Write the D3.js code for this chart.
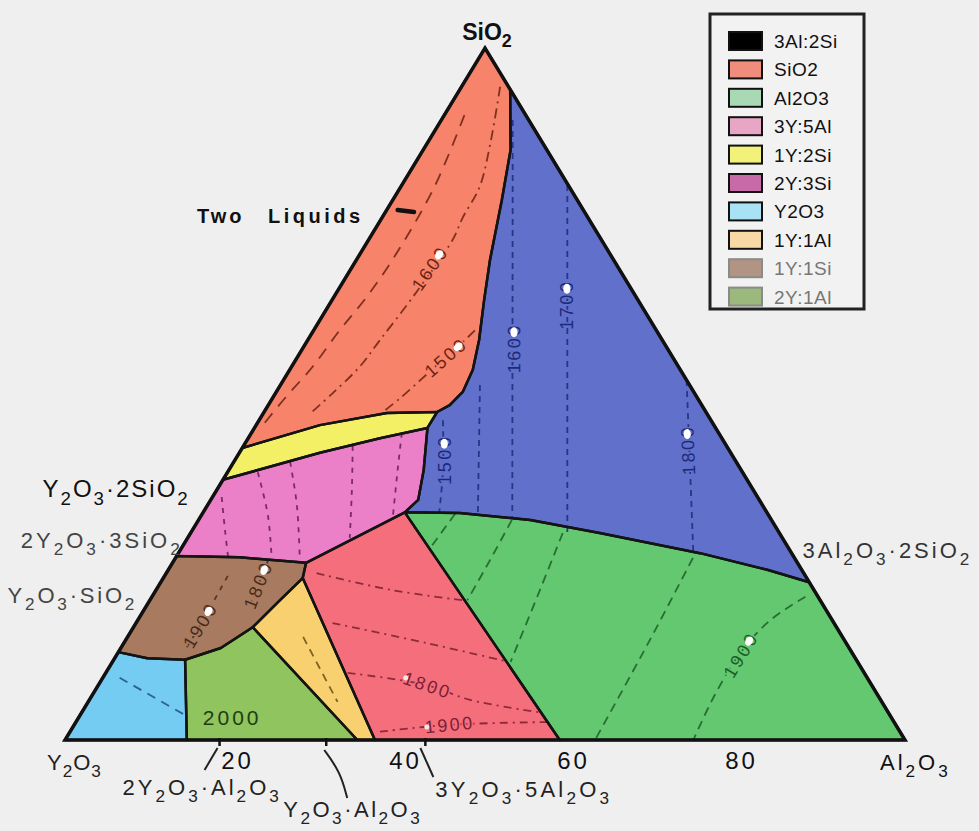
<!DOCTYPE html>
<html>
<head>
<meta charset="utf-8">
<script src="https://cdn.jsdelivr.net/npm/d3@7"></script>
<style>
  body { margin: 0; background: #efefef; }
  svg { display: block; }
  text { font-family: "Liberation Sans", Arial, sans-serif; }
</style>
</head>
<body>
<svg id="chart" width="979" height="831"></svg>
<script>
// Y2O3–Al2O3–SiO2 liquidus projection. Compositions in weight percent,
// written as [Al2O3, SiO2]; Y2O3 is the remainder.

const fieldNames = ["3Al:2Si", "SiO2", "Al2O3", "3Y:5Al", "1Y:2Si", "2Y:3Si", "Y2O3", "1Y:1Al", "1Y:1Si", "2Y:1Al"];

// primary crystallisation fields
const fieldMullite = [[6, 94], [77.2, 22.8], [71.3, 24.6], [62.1, 27.0], [48.7, 29.9], [39.5, 31.8], [30.6, 32.8], [24.0, 32.9], [24.7, 34.7], [23.2, 39.0], [20.6, 45.1], [20.6, 47.4], [21.6, 48.4], [22.2, 50.3], [21.8, 53.5], [20.4, 57.8], [18.1, 63.6], [15.9, 69.4], [13.0, 78.0], [10.4, 85.3]];
const fieldSiO2 = [[0, 100], [6, 94], [10.4, 85.3], [13.0, 78.0], [15.9, 69.4], [18.1, 63.6], [20.4, 57.8], [21.8, 53.5], [22.2, 50.3], [21.6, 48.4], [20.6, 47.4], [14.7, 47.25], [7.6, 45.5], [0, 42.2]];
const fieldAl2O3 = [[24.0, 32.9], [30.6, 32.8], [39.5, 31.8], [48.7, 29.9], [62.1, 27.0], [71.3, 24.6], [77.2, 22.8], [100, 0], [58.9, 0]];
const fieldY3A5 = [[15.9, 25.6], [24.0, 32.9], [58.9, 0], [36.9, 0], [16.6, 23.4]];
const fieldYS2 = [[0, 42.2], [7.6, 45.5], [14.7, 47.25], [20.6, 47.4], [20.6, 45.1], [15.7, 43.6], [9.6, 41.5], [0, 37.6]];
const fieldY2S3 = [[0, 37.6], [9.6, 41.5], [15.7, 43.6], [20.6, 45.1], [23.2, 39.0], [24.7, 34.7], [24.0, 32.9], [15.9, 25.6], [7.6, 26.4], [0, 26.6]];
const fieldY2O3 = [[0, 12.7], [3.9, 11.8], [8.5, 11.6], [14.5, 0], [0, 0]];
const fieldYA = [[14.2, 16.3], [15.5, 20.2], [16.6, 23.4], [36.9, 0], [34.8, 0]];
const fieldYS = [[0, 26.6], [7.6, 26.4], [15.9, 25.6], [16.6, 23.4], [15.5, 20.2], [14.2, 16.3], [11.9, 13.3], [8.5, 11.6], [3.9, 11.8], [0, 12.7]];
const fieldY2A = [[8.5, 11.6], [11.9, 13.3], [14.2, 16.3], [34.8, 0], [14.5, 0]];

// liquidus isotherms inside each field
const isoMullite = [
  [[21.9, 46.2], [25.5, 39.0], [28.1, 32.9]],
  [[23.75, 51.3], [32.8, 32.7]],
  [[8.5, 89.6], [37.2, 32.1]],
  [[19.7, 80.2], [44.9, 29.8]],
  [[48.0, 52.0], [61.3, 27.0]]
];
const isoSiO2 = [
  [[2.4, 90.3], [4.0, 80.0], [4.3, 70.0], [3.9, 64.0], [3.1, 59.2], [2.5, 53.9], [1.5, 49.5], [0.8, 45.5]],
  [[4.6, 94.4], [7.5, 86.3], [9.4, 79.9], [9.6, 75.5], [10.0, 72.3], [9.4, 64.0], [8.6, 57.8], [8.1, 53.9], [6.8, 50.1], [5.7, 47.4]],
  [[19.2, 59.2], [18.2, 56.4], [17.2, 54.2], [16.3, 52.0], [15.2, 49.4], [14.3, 47.7]]
];
const isoAl2O3 = [
  [[30.1, 32.7], [29.6, 27.7]],
  [[37.3, 31.8], [37.6, 26.0], [37.8, 20.2]],
  [[44.3, 29.9], [45.7, 21.7], [47.4, 11.3]],
  [[61.6, 26.3], [62.4, 14.5], [63.1, 0]],
  [[77.8, 20.7], [75.3, 17.3], [74.1, 12.6], [74.1, 6.5], [74.8, 0]]
];
const isoY3A5 = [
  [[17.9, 24.1], [27.9, 21.7], [37.2, 20.2]],
  [[23.4, 16.9], [36.1, 14.0], [47.1, 11.3]],
  [[28.8, 9.7], [39.2, 7.9], [45.3, 5.8], [54.5, 4.0]],
  [[36.9, 1.2], [44.7, 2.2], [56.4, 2.6]]
];
const isoY2S3 = [
  [[1.1, 35.1], [3.9, 30.3], [6.1, 26.6]],
  [[3.6, 38.7], [7.9, 32.5], [11.4, 26.4]],
  [[6.7, 40.2], [10.6, 34.0], [14.8, 26.3]],
  [[13.0, 42.5], [16.1, 36.1], [19.3, 29.2]],
  [[17.9, 44.4], [20.1, 39.0], [22.8, 32.5]]
];
const isoYS = [
  [[7.8, 13.4], [7.8, 16.6], [7.5, 24.1]],
  [[12.3, 19.5], [11.8, 22.4], [11.2, 26.0]]
];
const isoY2O3 = [[[2.0, 9.0], [12.5, 3.6]]];
const isoYA = [[[20.9, 14.9], [29.7, 5.5]]];

// isotherm temperatures (°C)
const isoLabels = [
  { text: "1600", field: "SiO2", line: 1, at: [9.35, 68.2] },
  { text: "1500", field: "SiO2", line: 2, at: [17.7, 55.3] },
  { text: "1500", field: "3Al:2Si", line: 0, at: [24.9, 40.5] },
  { text: "1600", field: "3Al:2Si", line: 2, at: [25.15, 56.6] },
  { text: "1700", field: "3Al:2Si", line: 3, at: [28.3, 62.9] },
  { text: "1800", field: "3Al:2Si", line: 4, at: [53.2, 41.9] },
  { text: "1900", field: "Al2O3", line: 4, at: [74.3, 12.3] },
  { text: "1800", field: "3Y:5Al", line: 2, at: [39.2, 7.9] },
  { text: "1900", field: "3Y:5Al", line: 3, at: [44.7, 2.2] },
  { text: "1900", field: "1Y:1Si", line: 0, at: [7.8, 16.6] },
  { text: "1800", field: "1Y:1Si", line: 1, at: [11.8, 22.4] },
  { text: "2000", field: "2Y:1Al", line: -1, at: [18.3, 3.2] }
];

// compounds on the binary joins (wt %)
const cornerNames = ["Y2O3", "Al2O3", "SiO2"];
const tickValues = [20, 40, 60, 80];
const baseCompounds = [
  { name: "2Y2O3·Al2O3", al: 18.4 },
  { name: "Y2O3·Al2O3", al: 31.1 },
  { name: "3Y2O3·5Al2O3", al: 42.9 }
];
const leftCompounds = [
  { name: "Y2O3·2SiO2", si: 34.7 },
  { name: "2Y2O3·3SiO2", si: 28.5 },
  { name: "Y2O3·SiO2", si: 21.0 }
];
const rightCompounds = [{ name: "3Al2O3·2SiO2", si: 28.2 }];
const twoLiquidsMark = [[1.3, 76.6], [3.4, 76.3]];

// ------------------------------------------------------------------
const polygons = {
  "3Al:2Si": fieldMullite, "SiO2": fieldSiO2, "Al2O3": fieldAl2O3, "3Y:5Al": fieldY3A5,
  "1Y:2Si": fieldYS2, "2Y:3Si": fieldY2S3, "Y2O3": fieldY2O3, "1Y:1Al": fieldYA,
  "1Y:1Si": fieldYS, "2Y:1Al": fieldY2A
};
const isotherms = {
  "3Al:2Si": isoMullite, "SiO2": isoSiO2, "Al2O3": isoAl2O3, "3Y:5Al": isoY3A5,
  "2Y:3Si": isoY2S3, "1Y:1Si": isoYS, "Y2O3": isoY2O3, "1Y:1Al": isoYA
};
const style = {
  "3Al:2Si": { fill: "#6171cb", ink: "#1d2a7a", key: "#000000", dash: ["6,5"] },
  "SiO2":    { fill: "#f7836a", ink: "#6a2212", key: "#f08c7c", dash: ["12,9", "10,5,2,5"] },
  "Al2O3":   { fill: "#63c86f", ink: "#1c5e28", key: "#a8d8b4", dash: ["9,6"] },
  "3Y:5Al":  { fill: "#f46e7c", ink: "#7c1f33", key: "#e8a6c6", dash: ["8,5,2,5"] },
  "1Y:2Si":  { fill: "#f3f066", ink: "#5e5a10", key: "#f2f27a", dash: ["6,5"] },
  "2Y:3Si":  { fill: "#ec80c8", ink: "#6a1a58", key: "#c86aa8", dash: ["5,6"] },
  "Y2O3":    { fill: "#74ccf2", ink: "#1e4e84", key: "#a8e2f4", dash: ["9,7"] },
  "1Y:1Al":  { fill: "#f8d070", ink: "#6a5016", key: "#f8d9a6", dash: ["8,6"] },
  "1Y:1Si":  { fill: "#a87b60", ink: "#4a2a1c", key: "#b29484", dash: ["5,6"] },
  "2Y:1Al":  { fill: "#8fc45e", ink: "#1f3d12", key: "#9ab97a", dash: ["6,6"] }
};

const svg = d3.select("#chart");
const x = d3.scaleLinear().domain([0, 100]).range([65, 905]);
const y = d3.scaleLinear().domain([0, 100]).range([740, 48]);
const project = ([al, si]) => [x(al + si / 2), y(si)];

const closed = d3.line().x(d => project(d)[0]).y(d => project(d)[1]).curve(d3.curveLinearClosed);
const open = d3.line().x(d => project(d)[0]).y(d => project(d)[1]).curve(d3.curveCatmullRom.alpha(0.5));
const straight = d3.line().x(d => project(d)[0]).y(d => project(d)[1]);

// chemical formula with subscripted stoichiometry
function formula(sel, str, size) {
  const parts = [];
  let prev = "";
  for (const ch of str) {
    const sub = /[0-9]/.test(ch) && /[A-Za-z]/.test(prev);
    if (parts.length && parts[parts.length - 1].sub === sub) parts[parts.length - 1].t += ch;
    else parts.push({ t: ch, sub });
    prev = ch;
  }
  let shift = 0;
  parts.forEach(p => {
    const target = p.sub ? size * 0.32 : 0;
    sel.append("tspan").attr("dy", target - shift)
      .style("font-size", (p.sub ? size * 0.78 : size) + "px").text(p.t);
    shift = target;
  });
  return sel;
}

// fields
const gFields = svg.append("g");
fieldNames.forEach(n => {
  gFields.append("path").attr("d", closed(polygons[n])).attr("fill", style[n].fill);
});

// isotherms
const gIso = svg.append("g").attr("fill", "none");
Object.keys(isotherms).forEach(n => {
  const dashes = style[n].dash;
  isotherms[n].forEach((line, i) => {
    gIso.append("path").attr("d", open(line))
      .attr("stroke", style[n].ink).attr("stroke-width", 1.8)
      .attr("stroke-dasharray", dashes[Math.min(i, dashes.length - 1)]).attr("opacity", 0.85);
  });
});

// isotherm labels, turned along their line
const gLab = svg.append("g");
isoLabels.forEach(l => {
  const [px, py] = project(l.at);
  let angle = 0;
  if (l.line >= 0) {
    const pts = isotherms[l.field][l.line].map(project);
    let best = 0, bd = Infinity;
    for (let i = 0; i < pts.length - 1; i++) {
      const mx = (pts[i][0] + pts[i + 1][0]) / 2, my = (pts[i][1] + pts[i + 1][1]) / 2;
      const d = (mx - px) ** 2 + (my - py) ** 2;
      if (d < bd) { bd = d; best = i; }
    }
    const a = pts[best], b = pts[best + 1];
    angle = Math.atan2(b[1] - a[1], b[0] - a[0]) * 180 / Math.PI;
    if (angle > 80) angle -= 180;
    if (angle < -100) angle += 180;
  }
  const big = l.field === "2Y:1Al";
  const g = gLab.append("g").attr("transform", `translate(${px},${py}) rotate(${angle})`);
  const t = g.append("text").attr("text-anchor", "middle").attr("dy", "0.35em")
    .attr("fill", style[l.field].ink).attr("stroke", style[l.field].fill).attr("stroke-width", 3)
    .attr("paint-order", "stroke")
    .style("font-size", big ? "21px" : "18px").style("letter-spacing", big ? "3px" : "2.5px")
    .text(l.text);
  const w = t.node().getComputedTextLength();
  if (!big && l.field !== "3Y:5Al") {
    g.append("ellipse").attr("cx", w / 2 - 9).attr("cy", 0).attr("rx", 5).attr("ry", 3.6).attr("fill", "#ffffff");
  } else if (l.field === "3Y:5Al") {
    g.append("ellipse").attr("cx", -w / 2 + 2).attr("cy", 0).attr("rx", 2.5).attr("ry", 2.5).attr("fill", "#f4e6e6");
  }
});

// field boundaries
const gBound = svg.append("g").attr("fill", "none").attr("stroke", "#141414")
  .attr("stroke-width", 2.5).attr("stroke-linejoin", "round");
fieldNames.forEach(n => gBound.append("path").attr("d", closed(polygons[n])));

// two-liquid mark
svg.append("path").attr("d", straight(twoLiquidsMark)).attr("stroke", "#111")
  .attr("stroke-width", 4.5).attr("stroke-linecap", "round");

// triangle frame
const corners = [[0, 0], [100, 0], [0, 100]];
svg.append("path").attr("d", closed(corners)).attr("fill", "none")
  .attr("stroke", "#111").attr("stroke-width", 3.5).attr("stroke-linejoin", "miter");

// composition axis along the Y2O3–Al2O3 join
const axis = d3.axisBottom(x).tickValues(tickValues).tickSize(0).tickPadding(12);
const gAxis = svg.append("g").attr("transform", `translate(4,${y(0)})`).call(axis);
gAxis.select(".domain").remove();
gAxis.selectAll("text").attr("fill", "#111").style("font-size", "24px")
  .style("font-family", "'Liberation Sans', Arial, sans-serif").style("letter-spacing", "3px");

// compounds on the base
const baseLayout = [
  { dx: -97, yb: 795, ls: 3, lead: [[-2, 8], [-15, 30]] },
  { dx: -43, yb: 817, ls: 2.5, lead: [[-2, 10], [14, 32], [21, 58]] },
  { dx: 10, yb: 797, ls: 3.2, lead: [[-5, 8], [8, 37]] }
];
baseCompounds.forEach((c, i) => {
  const px = x(c.al), L = baseLayout[i];
  svg.append("line").attr("x1", px).attr("x2", px).attr("y1", y(0) - 2).attr("y2", y(0) + 6)
    .attr("stroke", "#111").attr("stroke-width", 2.5);
  svg.append("path").attr("d", d3.line().curve(d3.curveBasis)(L.lead.map(p => [px + p[0], y(0) + p[1]])))
    .attr("fill", "none").attr("stroke", "#222").attr("stroke-width", 2);
  formula(svg.append("text").attr("x", px + L.dx).attr("y", L.yb).attr("fill", "#222")
    .style("letter-spacing", L.ls + "px"), c.name, 22);
});

// compounds on the Y2O3–SiO2 join
const leftLayout = [
  { dx: -21, dy: -3, size: 24, ls: 2, color: "#111" },
  { dx: -2, dy: 5, size: 22, ls: 3, color: "#444" },
  { dx: -16, dy: 8, size: 22, ls: 2.8, color: "#444" }
];
leftCompounds.forEach((c, i) => {
  const [px, py] = project([0, c.si]), L = leftLayout[i];
  formula(svg.append("text").attr("x", px + L.dx).attr("y", py + L.dy).attr("text-anchor", "end")
    .attr("fill", L.color).style("letter-spacing", L.ls + "px"), c.name, L.size);
});
rightCompounds.forEach(c => {
  const [px, py] = project([100 - c.si, c.si]);
  formula(svg.append("text").attr("x", px + 16).attr("y", py + 13).attr("fill", "#333")
    .style("letter-spacing", "3px"), c.name, 22);
});

// corner labels
const [ax, ay] = project([0, 100]);
formula(svg.append("text").attr("x", ax + 2).attr("y", ay - 8).attr("text-anchor", "middle")
  .attr("fill", "#111").style("font-weight", "bold"), cornerNames[2], 23);
formula(svg.append("text").attr("x", x(0) - 18).attr("y", y(0) + 30).attr("fill", "#222")
  .style("letter-spacing", "1px"), cornerNames[0], 22);
formula(svg.append("text").attr("x", x(100) - 25).attr("y", y(0) + 30).attr("fill", "#111")
  .style("letter-spacing", "3px"), cornerNames[1], 22);

// two-liquid region note
svg.append("text").attr("x", 197).attr("y", 223).attr("fill", "#111")
  .style("font-size", "20px").style("font-weight", "bold").style("letter-spacing", "3px").text("Two");
svg.append("text").attr("x", 268).attr("y", 223).attr("fill", "#111")
  .style("font-size", "20px").style("font-weight", "bold").style("letter-spacing", "3.5px").text("Liquids");

// legend
const lg = svg.append("g").attr("transform", "translate(710,14)");
lg.append("rect").attr("width", 154).attr("height", 295).attr("fill", "#f2f2f2")
  .attr("stroke", "#222").attr("stroke-width", 3);
fieldNames.forEach((n, i) => {
  const row = lg.append("g").attr("transform", `translate(0,${27 + i * 28.4})`);
  const faded = i >= 8;
  row.append("rect").attr("x", 19).attr("y", -9).attr("width", 33).attr("height", 18)
    .attr("fill", style[n].key).attr("stroke", faded ? "#8a8a8a" : "#111").attr("stroke-width", 2);
  row.append("text").attr("x", 64).attr("y", 7).attr("fill", faded ? "#777" : "#111")
    .style("font-size", "19px").style("letter-spacing", "0.5px").text(n);
});
</script>
</body>
</html>
